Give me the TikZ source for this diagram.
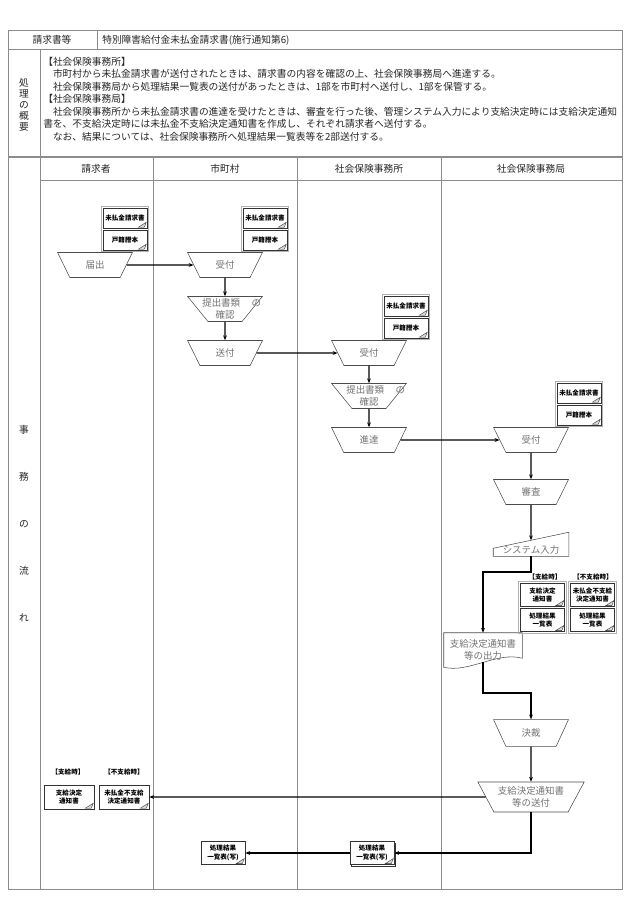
\documentclass[tikz,border=0pt]{standalone}
\usepackage{fontspec}
\setmainfont{Noto Sans CJK JP}
\usepackage{tikz}
\usetikzlibrary{positioning}
\usetikzlibrary{shapes.geometric}
\usetikzlibrary{arrows.meta}
\usetikzlibrary{calc}
\usetikzlibrary{fit}
\usetikzlibrary{shadows}

\newcommand{\mainfs}{\fontsize{7.3pt}{9.375pt}\selectfont}
\newcommand{\shapefs}{\fontsize{7.1pt}{9.4pt}\selectfont}
\newcommand{\docfs}{\fontsize{4.9pt}{6.2pt}\selectfont\bfseries}

\tikzset{
  frame/.style={draw=black!45, line width=0.6pt},
  txt/.style={font=\mainfs, text=black!85, inner sep=0pt},
  manop/.style={trapezium, trapezium left angle=118, trapezium right angle=118,
    trapezium stretches=true, minimum width=56.25pt, minimum height=18.75pt,
    inner sep=0pt, draw=black!70, line width=0.4pt, fill=white, text=black!55,
    font=\shapefs, align=center},
  manopwide/.style={manop, trapezium left angle=124, trapezium right angle=124,
    minimum width=80pt, minimum height=22.5pt},
  plain/.style={inner sep=0pt, text=black!55, font=\shapefs, align=center},
  shapeline/.style={draw=black!70, line width=0.4pt},
  doc/.style={draw=black!80, line width=0.4pt, fill=white, minimum width=33pt,
    minimum height=15pt, inner sep=0pt, font=\docfs, align=center,
    drop shadow={shadow xshift=0.6pt, shadow yshift=-0.6pt, fill=black!35}},
  doctwo/.style={doc, minimum height=17pt},
  grp/.style={draw=black!30, line width=0.8pt, inner sep=1.2pt},
  lbl/.style={font=\docfs, inner sep=0pt},
  curl/.style={draw=black!80, line width=0.3pt, fill=black!15},
  flow/.style={-{Stealth[length=3.6pt,width=2.8pt]}, line width=0.9pt, black},
}

\begin{document}
\begin{tikzpicture}[x=0.75pt, y=-0.75pt]

\useasboundingbox[fill=white] (0,0) rectangle (630,912);

% table frame
\draw[frame] (8,30) rectangle (622,889);
\draw[frame] (8,49) -- (622,49);
\draw[frame] (97,30) -- (97,49);
\draw[frame, line width=1.3pt] (8,157) -- (622,157);
\draw[frame] (40,49) -- (40,889);
\draw[frame] (40,180) -- (622,180);
\foreach \x in {153,297,441} \draw[frame] (\x,157) -- (\x,889);

\node[txt] (seikyu) at (52,40) {請求書等};
\node[txt, anchor=west] (title) at (102,40) {特別障害給付金未払金請求書(施行通知第6)};

\node[txt, font=\fontsize{7.3pt}{8.25pt}\selectfont, align=center] (shori) at (24,105) {処\\理\\の\\概\\要};
\node[txt, anchor=north west, align=left] (gaiyo) at (43,57) {【社会保険事務所】\\
\hspace*{1em}市町村から未払金請求書が送付されたときは、請求書の内容を確認の上、社会保険事務局へ進達する。\\
\hspace*{1em}社会保険事務局から処理結果一覧表の送付があったときは、1部を市町村へ送付し、1部を保管する。\\
【社会保険事務局】\\
\hspace*{1em}社会保険事務所から未払金請求書の進達を受けたときは、審査を行った後、管理システム入力により支給決定時には支給決定通知\\
書を、不支給決定時には未払金不支給決定通知書を作成し、それぞれ請求者へ送付する。\\
\hspace*{1em}なお、結果については、社会保険事務所へ処理結果一覧表等を2部送付する。};

\node[txt, font=\fontsize{7.3pt}{35.25pt}\selectfont, align=center] (nagare) at (24,524) {事\\務\\の\\流\\れ};

\node[txt] (lane1) at (96,169) {請求者};
\node[txt] (lane2) at (225,169) {市町村};
\node[txt] (lane3) at (369,169) {社会保険事務所};
\node[txt] (lane4) at (531,169) {社会保険事務局};

% flow shapes
\node[manop] (todokede) at (95,265) {届出};
\node[manop] (uke1) at (225,265) {受付};
\node[manop] (kaku1) at (225,309) {\makebox[0pt][l]{\hspace{-2.4em}提出書類\hspace{1.2em}の}\\確認};
\node[manop] (sofu1) at (225,353) {送付};
\node[manop] (uke2) at (369,353) {受付};
\node[manop] (kaku2) at (369,396) {\makebox[0pt][l]{\hspace{-2.4em}提出書類\hspace{1.2em}の}\\確認};
\node[manop] (shintatsu) at (369,440) {進達};
\node[manop] (uke3) at (531,440) {受付};
\node[manop] (shinsa) at (531,492) {審査};

\node[plain, minimum width=56.25pt, minimum height=9pt] (sys) at (531,550) {システム入力};
\draw[shapeline] (sys.south west) -- (sys.south east) -- ++(0,-24) -- ($(sys.south west)+(0,-8)$) -- cycle;
\coordinate (systop) at ($(sys.south)+(0,-16)$);

\node[plain, minimum width=58.5pt, minimum height=25.5pt] (shutsu) at (483,650) {支給決定通知書\\等の出力};
\draw[shapeline] (shutsu.north west) -- (shutsu.north east) -- ($(shutsu.south east)+(0,-9)$)
  .. controls ($(shutsu.south east)+(-25,-16)$) and ($(shutsu.south west)+(25,6)$) .. (shutsu.south west) -- cycle;
\coordinate (shutsub) at ($(shutsu.south)+(0,-5)$);

\node[manop, minimum height=20pt] (kessai) at (531,733) {決裁};
\node[manopwide] (sofu2) at (531,797) {支給決定通知書\\等の送付};

\coordinate (t1) at (483,572);
\coordinate (t2) at (531,693);

% documents
\node[doc] (d1a) at (125,218) {未払金請求書};
\node[doc] (d1b) at (125,240) {戸籍謄本};
\node[doc] (d2a) at (265,218) {未払金請求書};
\node[doc] (d2b) at (265,240) {戸籍謄本};
\node[doc] (d3a) at (406,306) {未払金請求書};
\node[doc] (d3b) at (406,328) {戸籍謄本};
\node[doc] (d4a) at (579,393) {未払金請求書};
\node[doc] (d4b) at (579,415) {戸籍謄本};
\node[doctwo] (d5a) at (542.5,595) {支給決定\\通知書};
\node[doctwo] (d5b) at (542.5,620) {処理結果\\一覧表};
\node[doctwo] (d6a) at (592.5,595) {未払金不支給\\決定通知書};
\node[doctwo] (d6b) at (592.5,620) {処理結果\\一覧表};

\node[grp, fit=(d1a)(d1b)] (g1) {};
\node[grp, fit=(d2a)(d2b)] (g2) {};
\node[grp, fit=(d3a)(d3b)] (g3) {};
\node[grp, fit=(d4a)(d4b)] (g4) {};
\node[grp, fit=(d5a)(d5b)] (g5) {};
\node[grp, fit=(d6a)(d6b)] (g6) {};

\node[lbl] (k5) at (545,577) {【支給時】};
\node[lbl] (k6) at (593,577) {【不支給時】};

\node[doctwo, minimum width=37.5pt, minimum height=18pt] (r1) at (69,797) {支給決定\\通知書};
\node[doctwo, minimum width=37.5pt, minimum height=18pt] (r2) at (124,797) {未払金不支給\\決定通知書};
\node[lbl] (k1) at (68,772) {【支給時】};
\node[lbl] (k2) at (124,772) {【不支給時】};

\node[doctwo] (kekka1) at (223,853) {処理結果\\一覧表(写)};
\node[doctwo, copy shadow={shadow xshift=1.3pt, shadow yshift=-1.3pt}] (kekka2) at (372,853) {処理結果\\一覧表(写)};

\foreach \d in {d1a,d1b,d2a,d2b,d3a,d3b,d4a,d4b,d5a,d5b,d6a,d6b,r1,r2,kekka1,kekka2}
  \draw[curl] (\d.south east) +(-9,-1) -- +(-1,-6) -- +(-3,-1) -- cycle;

% connectors
\draw[flow] (todokede) -- (uke1);
\draw[flow] (uke1) -- (kaku1);
\draw[flow] (kaku1) -- (sofu1);
\draw[flow] (sofu1) -- (uke2);
\draw[flow] (uke2) -- (kaku2);
\draw[flow] (kaku2) -- (shintatsu);
\draw[flow] (shintatsu) -- (uke3);
\draw[flow] (uke3) -- (shinsa);
\draw[flow] (shinsa) -- (systop);
\draw[flow] (sys.south) |- (t1) -- (shutsu.north);
\draw[flow] (shutsub) |- (t2) -- (kessai);
\draw[flow] (kessai) -- (sofu2);
\draw[flow] (sofu2) -- (r2);
\draw[flow] (sofu2.south) |- (kekka2);
\draw[flow] (kekka2) -- (kekka1);

\end{tikzpicture}
\end{document}
